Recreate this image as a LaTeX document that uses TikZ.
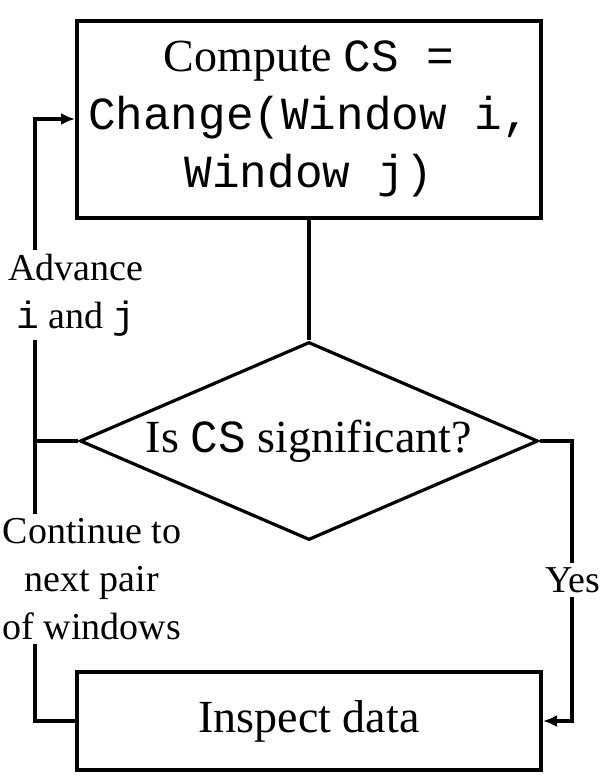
\documentclass[tikz,border=0pt]{standalone}
\usepackage{fontspec}
\setmainfont{Liberation Serif}
\setmonofont{Liberation Mono}
\usetikzlibrary{shapes.geometric,arrows.meta}

\begin{document}
\begin{tikzpicture}[x=0.5pt,y=-0.5pt,
    box/.style={rectangle,draw,line width=2pt,minimum width=232pt,inner sep=0pt,align=center,font=\fontsize{23}{29}\selectfont},
    decision/.style={diamond,draw,line width=1.6pt,aspect=2.3,minimum width=229pt,minimum height=99pt,inner sep=0pt,font=\fontsize{23}{28}\selectfont},
    lbl/.style={fill=white,inner sep=2pt,align=center,font=\fontsize{19}{24}\selectfont},
    link/.style={line width=2pt},
    tip/.style={-{Latex[length=7pt,width=6pt]}}]
\useasboundingbox (0,0) rectangle (606,782);
\node[box,minimum height=98.5pt] (compute) at (309,119) {Compute \texttt{CS =}\\\texttt{Change(Window i,}\\\texttt{Window j)}};
\node[decision] (test) at (309,441) {Is \texttt{CS} significant?};
\node[box,minimum height=49pt] (inspect) at (309,721) {Inspect data};
\coordinate (lft) at (35,441);
\coordinate (rgt) at (572,441);
\draw[link,line width=1.6pt] (compute) -- (test);
\draw[link] (test.west) -- (lft);
\draw[link,tip] (inspect.west) -| (lft) |- (compute.west);
\draw[link,tip] (test.east) -- (rgt) |- (inspect.east);
\node[lbl] (advance) at (76,295) {Advance\\\texttt{i} and \texttt{j}};
\node[lbl] (continue) at (92,579) {Continue to\\next pair\\of windows};
\node[lbl] (yes) at (573,580) {Yes};
\end{tikzpicture}
\end{document}
